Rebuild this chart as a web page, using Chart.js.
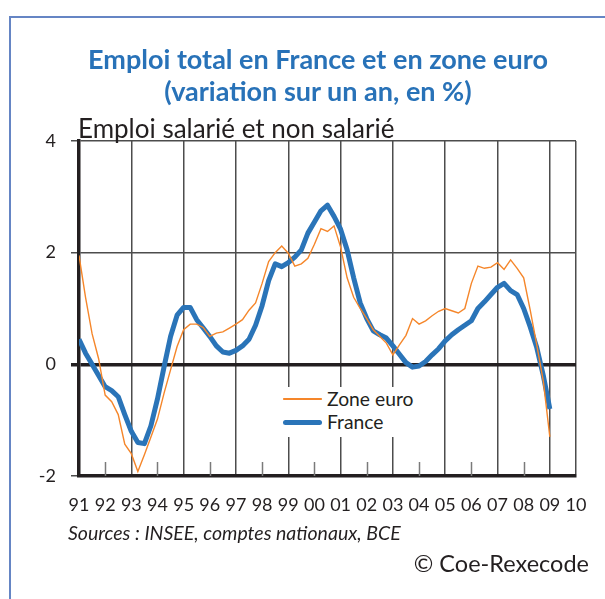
<!DOCTYPE html>
<html lang="fr">
<head>
<meta charset="utf-8">
<title>Emploi total en France et en zone euro</title>
<script src="https://cdn.jsdelivr.net/npm/chart.js@4.4.1/dist/chart.umd.min.js"></script>
<style>
  html, body { margin: 0; padding: 0; background: #fff; }
  #wrap { position: relative; width: 605px; height: 599px; overflow: hidden; font-family: Lato, "Open Sans", sans-serif; color: #231f20; }
  #frame { position: absolute; left: 9px; top: 16px; width: 700px; height: 700px; border-top: 2px solid #6585c4; border-left: 2px solid #6585c4; }
  canvas { position: absolute; left: 0; top: 0; }
  .t { position: absolute; white-space: nowrap; }
  #title { left: 0; width: 636px; top: 43px; text-align: center; font-weight: 700; font-size: 27px; line-height: 32px; color: #2872b8; }
  #subtitle { left: 78px; top: 113px; font-size: 26px; line-height: 30px; }
  #sources { left: 68px; top: 521px; font-size: 19.5px; line-height: 24px; font-style: italic; }
  #copy { right: 16px; top: 549px; font-size: 23.5px; line-height: 28px; }
  #legend { position: absolute; left: 275px; top: 387px; width: 145px; height: 50px; background: #fff; }
  .lg-row { position: absolute; left: 0; height: 22px; width: 145px; }
  .lg-line { position: absolute; left: 8px; width: 39px; }
  .lg-text { position: absolute; left: 52px; top: 0; font-size: 19.3px; line-height: 22px; }
</style>
</head>
<body>
<div id="wrap">
  <div id="frame"></div>
  <canvas id="c" width="605" height="599"></canvas>
  <div class="t" id="title">Emploi total en France et en zone euro<br>(variation sur un an, en %)</div>
  <div class="t" id="subtitle">Emploi salarié et non salarié</div>
  <div id="legend"></div>
  <div class="t" id="sources">Sources : INSEE, comptes nationaux, BCE</div>
  <div class="t" id="copy">© Coe-Rexecode</div>
</div>
<script>
// ---- Data (quarterly, year-on-year % change, 1991 T1 -> 2009 T1) ----
const startYear = 1991;
const endYear = 2010;
const seriesNames = ["Zone euro", "France"];
const yTicks = [-2, 0, 2, 4];

const euroZone = [
  1.95, 1.2, 0.55, 0.1,
  -0.55, -0.67, -0.9, -1.43,
  -1.6, -1.92, -1.62, -1.3,
  -0.98, -0.52, -0.1, 0.32,
  0.62, 0.72, 0.72, 0.66,
  0.5, 0.56, 0.58, 0.65,
  0.72, 0.8, 0.97, 1.1,
  1.45, 1.84, 2.0, 2.12,
  1.99, 1.76, 1.8, 1.9,
  2.15, 2.43, 2.38, 2.48,
  2.1, 1.55, 1.2, 1.0,
  0.82, 0.62, 0.5, 0.38,
  0.17, 0.35, 0.52, 0.82,
  0.72, 0.78, 0.87, 0.95,
  1.0, 0.96, 0.92, 1.0,
  1.45, 1.76, 1.72, 1.74,
  1.82, 1.7, 1.87, 1.72,
  1.55, 0.97, 0.35, -0.3,
  -1.3
];

const france = [
  0.45, 0.2, 0.0, -0.2,
  -0.4, -0.47, -0.58, -0.9,
  -1.2, -1.4, -1.42, -1.1,
  -0.62, -0.05, 0.5, 0.88,
  1.02, 1.02, 0.8, 0.65,
  0.5, 0.33, 0.22, 0.2,
  0.25, 0.33, 0.45, 0.7,
  1.05, 1.5, 1.8, 1.75,
  1.82, 1.92, 2.05, 2.35,
  2.55, 2.75, 2.85, 2.65,
  2.42, 2.05, 1.55, 1.1,
  0.82, 0.6, 0.53, 0.47,
  0.33, 0.18, 0.03, -0.05,
  -0.03, 0.05, 0.17, 0.28,
  0.42, 0.53, 0.62, 0.7,
  0.78, 1.0, 1.12, 1.25,
  1.38, 1.45, 1.32, 1.25,
  1.0, 0.67, 0.3, -0.2,
  -0.8
];

// quarter positions on the time axis (T1 = start of year)
const periods = france.map((_, i) => startYear + i / 4);

const colors = { euro: "#f5862a", france: "#2a74b8", ink: "#231f20", grid: "#4d4d4d", minor: "#7a7a7a" };
const tickFont = { family: "Lato, 'Open Sans', sans-serif", size: 18 };

// ---- HTML legend built from dataset names ----
(function buildLegend() {
  const lg = document.getElementById("legend");
  const specs = [
    { name: seriesNames[0], color: colors.euro, w: 1.6, top: 1 },
    { name: seriesNames[1], color: colors.france, w: 5, top: 24 }
  ];
  specs.forEach(s => {
    const row = document.createElement("div");
    row.className = "lg-row";
    row.style.top = s.top + "px";
    const line = document.createElement("div");
    line.className = "lg-line";
    line.style.height = s.w + "px";
    line.style.top = (11 - s.w / 2) + "px";
    line.style.background = s.color;
    line.style.borderRadius = (s.w / 2) + "px";
    const txt = document.createElement("div");
    txt.className = "lg-text";
    txt.textContent = s.name;
    row.appendChild(line);
    row.appendChild(txt);
    lg.appendChild(row);
  });
})();

// short inward ticks for the even years on the bottom axis
const minorTicks = {
  id: "minorTicks",
  beforeDatasetsDraw(chart) {
    const x = chart.scales.x, area = chart.chartArea, c = chart.ctx;
    c.save();
    c.strokeStyle = colors.minor;
    c.lineWidth = 1.5;
    x.ticks.forEach(t => {
      if (t.value % 2 === 0 && t.value !== endYear) {
        const px = Math.round(x.getPixelForValue(t.value)) + 0.5;
        c.beginPath();
        c.moveTo(px, area.bottom);
        c.lineTo(px, area.bottom - 14);
        c.stroke();
      }
    });
    c.restore();
  }
};

new Chart(document.getElementById("c"), {
  type: "line",
  data: {
    datasets: [
      {
        label: seriesNames[0],
        data: euroZone.map((v, i) => ({ x: periods[i], y: v })),
        borderColor: colors.euro,
        borderWidth: 1.4,
        pointRadius: 0,
        tension: 0
      },
      {
        label: seriesNames[1],
        data: france.map((v, i) => ({ x: periods[i], y: v })),
        borderColor: colors.france,
        borderWidth: 5,
        borderJoinStyle: "round",
        borderCapStyle: "butt",
        pointRadius: 0,
        tension: 0
      }
    ]
  },
  options: {
    responsive: false,
    animation: false,
    events: [],
    layout: { padding: { top: 141, right: 29, left: 0, bottom: 0 } },
    plugins: { legend: { display: false }, tooltip: { enabled: false }, title: { display: false } },
    scales: {
      x: {
        type: "linear",
        min: startYear,
        max: endYear,
        afterFit: s => { s.height = 123; },
        afterBuildTicks: s => { s.ticks = []; for (let y = startYear; y <= endYear; y++) s.ticks.push({ value: y }); },
        ticks: {
          autoSkip: false,
          maxRotation: 0,
          padding: 18,
          font: tickFont,
          color: colors.ink,
          callback: v => String(v).slice(2)
        },
        grid: {
          drawTicks: false,
          lineWidth: 1.5,
          color: ctx => (ctx.tick && (ctx.tick.value % 2 === 1 || ctx.tick.value === endYear)) ? colors.grid : "rgba(0,0,0,0)"
        },
        border: { display: true, color: colors.ink, width: 3.5 }
      },
      y: {
        min: -2,
        max: 4,
        afterFit: s => { s.width = 79; },
        afterBuildTicks: s => { s.ticks = yTicks.map(v => ({ value: v })); },
        ticks: { padding: 15, font: tickFont, color: colors.ink },
        grid: {
          tickLength: 8,
          lineWidth: ctx => (ctx.tick && ctx.tick.value === 0) ? 3.5 : 1.5,
          color: ctx => (ctx.tick && ctx.tick.value === 0) ? colors.ink : colors.grid
        },
        border: { display: true, color: colors.ink, width: 3.5 }
      }
    }
  },
  plugins: [minorTicks]
});
</script>
</body>
</html>
